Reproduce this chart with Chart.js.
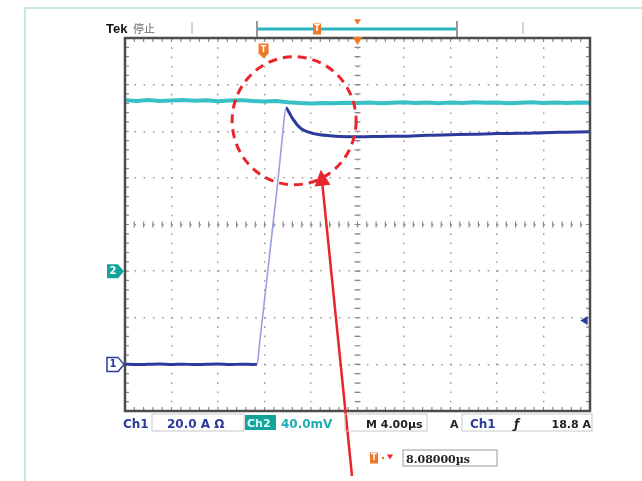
<!DOCTYPE html>
<html>
<head>
<meta charset="utf-8">
<script src="https://cdn.jsdelivr.net/npm/chart.js@4.4.1/dist/chart.umd.min.js"></script>
<style>
html,body{margin:0;padding:0;background:#fff;}
#wrap{width:642px;height:481px;position:relative;}
canvas{display:block;}
</style>
</head>
<body>
<div id="wrap"><canvas id="c" width="642" height="481"></canvas></div>
<script>
// Time axis (µs), 4 µs/div, 10 divisions
const timeTicks = [0,4,8,12,16,20,24,28,32,36,40];
// Ch1 current (A), 20 A/div
const ch1Time = [0,1,2,3,4,5,6,7,8,9,10,11,11.35,11.61,12.0,12.39,12.77,13.16,13.51,13.85,
  14.1,14.37,14.6,14.8,15.05,15.31,15.6,15.91,16.3,16.77,17.63,18.5,20.22,22,24,26,28,30,32,34,36,38,40];
const ch1Amps = [0.1,-0.1,0.05,0.15,-0.05,0.1,-0.1,0.05,0.15,-0.1,0.1,0.0,0.1,10.5,27.6,44.8,62.0,79.1,96.3,110.0,
  108.2,105.8,104.2,102.8,101.6,100.6,99.9,99.4,98.9,98.5,98.1,97.8,97.6,97.8,97.9,98.3,98.5,98.7,99.0,99.1,99.4,99.6,99.8];
// Ch2 voltage (mV), 40 mV/div
const ch2Time = [0,1,2,3,4,5,6,7,8,9,10,11,12,13,14,15,16,17,18,19,20,21,22,23,24,25,26,27,28,29,30,31,32,33,34,35,36,37,38,39,40];
const ch2mV = [146.5,146.0,146.8,145.9,146.4,146.9,146.1,146.6,145.8,146.3,146.7,146.0,145.6,145.9,144.8,144.2,143.9,144.3,144.0,144.5,
  144.2,144.6,144.1,144.4,144.8,144.3,144.6,144.1,144.7,144.3,144.9,144.4,144.6,144.0,144.5,144.8,144.2,144.6,144.3,144.7,144.4];
// readouts
const ch1Scale = "20.0 A", ch2Scale = "40.0mV", timeScale = "4.00µs", trigLevel = 18.8, trigDelta = 8.08;

const ch1Data = ch1Time.map((t,i)=>({x:t,y:ch1Amps[i]}));
const ch2Data = ch2Time.map((t,i)=>({x:t,y:ch2mV[i]}));

const BLUE = '#2c3a9e', CYAN = '#38c0c8', TEAL = '#13a39a', ORANGE = '#f0782a', RED = '#e8262b';

function drawTMarker(ctx, x, y, w, h, pointDown){
  ctx.save();
  ctx.fillStyle = ORANGE;
  ctx.beginPath();
  ctx.moveTo(x - w/2, y - h/2);
  ctx.lineTo(x + w/2, y - h/2);
  ctx.lineTo(x + w/2, y + h/2 - (pointDown?3:0));
  if (pointDown) { ctx.lineTo(x, y + h/2 + 2); }
  ctx.lineTo(x - w/2, y + h/2 - (pointDown?3:0));
  ctx.closePath();
  ctx.fill();
  ctx.fillStyle = '#fff';
  ctx.font = 'bold 8px "DejaVu Sans"';
  ctx.textAlign = 'center'; ctx.textBaseline = 'middle';
  ctx.fillText('T', x, y - 0.5);
  ctx.restore();
}

function drawTri(ctx, x, y, s, dir, color){
  ctx.save(); ctx.fillStyle = color; ctx.beginPath();
  if (dir==='down'){ ctx.moveTo(x-s, y-s*0.8); ctx.lineTo(x+s, y-s*0.8); ctx.lineTo(x, y+s*0.8); }
  else if (dir==='left'){ ctx.moveTo(x+s*0.8, y-s); ctx.lineTo(x+s*0.8, y+s); ctx.lineTo(x-s*0.8, y); }
  ctx.closePath(); ctx.fill(); ctx.restore();
}

function chMarker(ctx, yPix, label, color, filled){
  ctx.save();
  const x0 = 107, x1 = 118, x2 = 124, h = 7;
  ctx.beginPath();
  ctx.moveTo(x0, yPix-h); ctx.lineTo(x1, yPix-h); ctx.lineTo(x2, yPix); ctx.lineTo(x1, yPix+h); ctx.lineTo(x0, yPix+h); ctx.closePath();
  if (filled){ ctx.fillStyle = color; ctx.fill(); }
  else { ctx.fillStyle = '#fff'; ctx.fill(); ctx.strokeStyle = color; ctx.lineWidth = 1.5; ctx.stroke(); }
  ctx.fillStyle = filled ? '#fff' : color;
  ctx.font = 'bold 10px "DejaVu Sans"'; ctx.textAlign='center'; ctx.textBaseline='middle';
  ctx.fillText(label, 113, yPix+0.5);
  ctx.restore();
}

const scopePlugin = {
  id: 'scope',
  beforeDraw(chart){
    const ctx = chart.ctx;
    ctx.save();
    ctx.fillStyle = '#fff'; ctx.fillRect(0,0,chart.width,chart.height);
    ctx.strokeStyle = '#c4e8de'; ctx.lineWidth = 2;
    ctx.beginPath(); ctx.moveTo(25, 481); ctx.lineTo(25, 8); ctx.lineTo(642, 8); ctx.stroke();
    ctx.restore();
  },
  beforeDatasetsDraw(chart){
    const ctx = chart.ctx, a = chart.chartArea;
    const xs = chart.scales.x, ys = chart.scales.y;
    ctx.save();
    ctx.strokeStyle = '#8a8a8a'; ctx.lineWidth = 1.2;
    const cx = xs.getPixelForValue(20), cy = ys.getPixelForValue(60);
    for (let t = 0; t <= 40.001; t += 0.8){
      const p = xs.getPixelForValue(t);
      ctx.beginPath();
      ctx.moveTo(p, a.top); ctx.lineTo(p, a.top+4);
      ctx.moveTo(p, a.bottom); ctx.lineTo(p, a.bottom-4);
      ctx.moveTo(p, cy-3); ctx.lineTo(p, cy+3);
      ctx.stroke();
    }
    for (let v = -20; v <= 140.001; v += 4){
      const p = ys.getPixelForValue(v);
      ctx.beginPath();
      ctx.moveTo(a.left, p); ctx.lineTo(a.left+4, p);
      ctx.moveTo(a.right, p); ctx.lineTo(a.right-4, p);
      ctx.moveTo(cx-3, p); ctx.lineTo(cx+3, p);
      ctx.stroke();
    }
    ctx.restore();
  },
  afterDatasetsDraw(chart){
    const ctx = chart.ctx, a = chart.chartArea;
    const xs = chart.scales.x, ys = chart.scales.y, y2 = chart.scales.y2;
    ctx.save();
    ctx.strokeStyle = '#4d4d4d'; ctx.lineWidth = 2.5;
    ctx.strokeRect(a.left, a.top, a.right-a.left, a.bottom-a.top);

    ctx.textBaseline = 'alphabetic';
    ctx.fillStyle = '#111'; ctx.font = 'bold 13px "Liberation Sans"'; ctx.textAlign='left';
    ctx.fillText('Tek', 106, 33);
    ctx.fillStyle = '#666'; ctx.font = '11px "Noto Sans CJK SC"';
    ctx.fillText('停止', 133, 33);
    ctx.strokeStyle = '#aaa'; ctx.lineWidth = 1;
    [192, 523].forEach(x=>{ ctx.beginPath(); ctx.moveTo(x, 22); ctx.lineTo(x, 34); ctx.stroke(); });
    ctx.strokeStyle = '#777'; ctx.lineWidth = 1.5;
    [257, 457].forEach(x=>{ ctx.beginPath(); ctx.moveTo(x, 21); ctx.lineTo(x, 37); ctx.stroke(); });
    ctx.strokeStyle = '#2ab4bb'; ctx.lineWidth = 3;
    ctx.beginPath(); ctx.moveTo(258, 29); ctx.lineTo(456, 29); ctx.stroke();
    drawTMarker(ctx, 317, 29, 8, 11, false);
    const centerX = xs.getPixelForValue(20);
    drawTri(ctx, centerX, 22, 3.5, 'down', ORANGE);
    drawTri(ctx, centerX, 41, 5, 'down', ORANGE);
    const trigX = xs.getPixelForValue(20 - trigDelta);
    drawTMarker(ctx, trigX, 50, 10, 13, true);

    chMarker(ctx, y2.getPixelForValue(0), '2', TEAL, true);
    chMarker(ctx, ys.getPixelForValue(0), '1', BLUE, false);
    drawTri(ctx, a.right - 6, ys.getPixelForValue(trigLevel), 4.5, 'left', BLUE);

    const ex = xs.getPixelForValue(14.55), ey = ys.getPixelForValue(104.5);
    ctx.strokeStyle = RED; ctx.lineWidth = 3; ctx.setLineDash([9,6]);
    ctx.beginPath(); ctx.ellipse(ex, ey, 62, 64, 0, 0, Math.PI*2); ctx.stroke();
    ctx.setLineDash([]);
    const tipX = xs.getPixelForValue(16.85), tipY = ys.getPixelForValue(83.5);
    const tailX = 352, tailY = 476;
    const ang = Math.atan2(tipY - tailY, tipX - tailX);
    ctx.strokeStyle = RED; ctx.lineWidth = 2.5;
    ctx.beginPath(); ctx.moveTo(tailX, tailY); ctx.lineTo(tipX - 12*Math.cos(ang), tipY - 12*Math.sin(ang)); ctx.stroke();
    ctx.fillStyle = RED; ctx.beginPath();
    ctx.moveTo(tipX, tipY);
    ctx.lineTo(tipX - 16*Math.cos(ang) + 8*Math.sin(ang), tipY - 16*Math.sin(ang) - 8*Math.cos(ang));
    ctx.lineTo(tipX - 16*Math.cos(ang) - 8*Math.sin(ang), tipY - 16*Math.sin(ang) + 8*Math.cos(ang));
    ctx.closePath(); ctx.fill();

    const by = 428;
    ctx.strokeStyle = '#c8c8c8'; ctx.lineWidth = 1;
    ctx.strokeRect(152, 414, 92, 17);
    ctx.strokeRect(345, 414, 82, 17);
    ctx.strokeRect(462, 414, 130, 17);
    ctx.font = 'bold 12px "DejaVu Sans"'; ctx.textAlign='left';
    ctx.fillStyle = BLUE;
    ctx.fillText('Ch1', 123, by);
    ctx.fillText(ch1Scale + ' Ω', 167, by);
    ctx.fillStyle = TEAL; ctx.fillRect(245, 415, 31, 15);
    ctx.fillStyle = '#dff'; ctx.font = 'bold 11px "DejaVu Sans"';
    ctx.fillText('Ch2', 247, by-1);
    ctx.fillStyle = '#1eaeb0'; ctx.font = 'bold 12px "DejaVu Sans"';
    ctx.fillText(ch2Scale, 281, by);
    ctx.fillStyle = '#222'; ctx.font = 'bold 11px "DejaVu Sans"';
    ctx.fillText('M ' + timeScale, 366, by);
    ctx.fillText('A', 450, by);
    ctx.fillStyle = BLUE; ctx.font = 'bold 12px "DejaVu Sans"';
    ctx.fillText('Ch1', 470, by);
    ctx.fillStyle = '#222'; ctx.font = 'bold italic 12px "DejaVu Sans"';
    ctx.fillText('ƒ', 514, by);
    ctx.font = 'bold 11px "DejaVu Sans"'; ctx.textAlign='right';
    ctx.fillText(trigLevel.toFixed(1) + ' A', 591, by);
    ctx.textAlign='left';
    drawTMarker(ctx, 374, 458, 8, 11, false);
    ctx.fillStyle = ORANGE; ctx.beginPath(); ctx.arc(383, 458, 1.3, 0, Math.PI*2); ctx.fill();
    drawTri(ctx, 390, 457, 3, 'down', RED);
    ctx.strokeStyle = '#999'; ctx.lineWidth = 1;
    ctx.strokeRect(403, 450, 94, 16);
    ctx.fillStyle = '#222'; ctx.font = 'bold 11px "DejaVu Serif"';
    ctx.fillText(trigDelta.toFixed(5) + 'µs', 406, 463);
    ctx.restore();
  }
};

new Chart(document.getElementById('c'), {
  type: 'line',
  data: {
    datasets: [
      { label: 'Ch2', data: ch2Data, yAxisID: 'y2', borderColor: CYAN, borderWidth: 4, pointRadius: 0, tension: 0, order: 2 },
      { label: 'Ch1', data: ch1Data, yAxisID: 'y', borderColor: BLUE, borderWidth: 3, pointRadius: 0, order: 1,
        cubicInterpolationMode: 'monotone',
        segment: {
          borderColor: c => (c.p1.parsed.y - c.p0.parsed.y > 5) ? '#98a0e2' : undefined,
          borderWidth: c => (c.p1.parsed.y - c.p0.parsed.y > 5) ? 1.6 : undefined
        } }
    ]
  },
  options: {
    responsive: false,
    animation: false,
    devicePixelRatio: 1,
    layout: { padding: { left: 125, top: 38, right: 52, bottom: 70 } },
    plugins: { legend: { display: false }, tooltip: { enabled: false }, title: { display: false } },
    scales: {
      x: { type: 'linear', min: 0, max: 40,
           afterBuildTicks: s => { s.ticks = timeTicks.map(v=>({value:v})); },
           ticks: { display: false },
           grid: { color: '#9a9a9a', lineWidth: 1.4, drawTicks: false },
           border: { display: false, dash: [1.6, 7.7] } },
      y: { type: 'linear', min: -20, max: 140,
           ticks: { display: false, stepSize: 20 },
           grid: { color: '#9a9a9a', lineWidth: 1.4, drawTicks: false },
           border: { display: false, dash: [1.6, 7.7] } },
      y2: { type: 'linear', min: -120, max: 200, display: false }
    }
  },
  plugins: [scopePlugin]
});
</script>
</body>
</html>
